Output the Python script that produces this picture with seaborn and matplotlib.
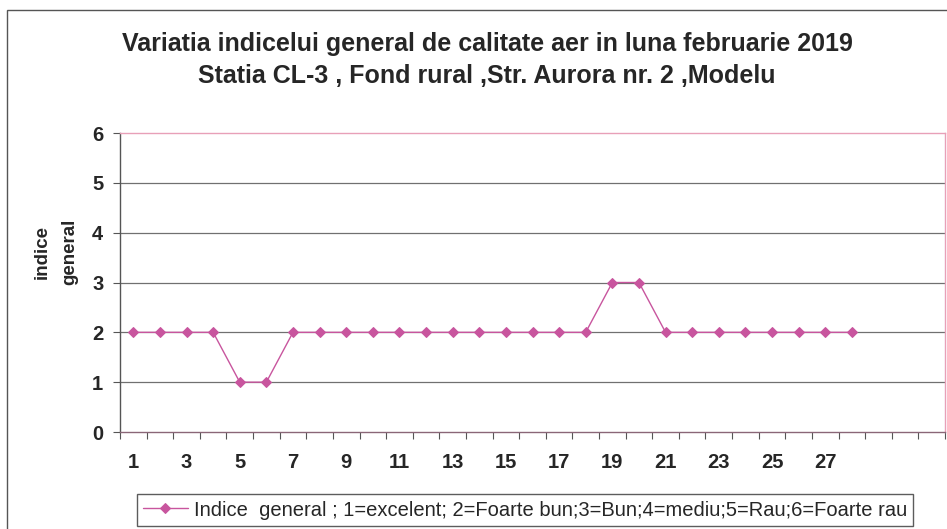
import matplotlib
matplotlib.use('Agg')
import matplotlib.pyplot as plt
import matplotlib.patches as mpatches
import pandas as pd
import seaborn as sns

# data (February 2019, days 1-28)
days = list(range(1, 29))
indice = [2, 2, 2, 2, 1, 1, 2, 2, 2, 2, 2, 2, 2, 2,
          2, 2, 2, 2, 3, 3, 2, 2, 2, 2, 2, 2, 2, 2]
tick_days = list(range(1, 28, 2))
n_categories = 31

title = ('Variatia indicelui general de calitate aer in luna februarie 2019\n'
         'Statia CL-3 , Fond rural ,Str. Aurora nr. 2 ,Modelu')
legend_label = 'Indice  general ; 1=excelent; 2=Foarte bun;3=Bun;4=mediu;5=Rau;6=Foarte rau'

df = pd.DataFrame({'zi': days, 'indice': indice})

sns.set_theme(style='white')
plt.rcParams['font.family'] = ['Liberation Sans', 'DejaVu Sans']

line_col = '#c8559e'

fig = plt.figure(figsize=(9.47, 5.29), dpi=100)
ax = fig.add_axes([120 / 947, 1 - 432 / 529, 825 / 947, 299 / 529])

# outer chart frame (cut by the scan at right and bottom)
fig.patches.append(mpatches.Rectangle((7 / 947, -0.02), 1.0, 1 - 10 / 529 + 0.02,
                                      transform=fig.transFigure, fill=False,
                                      edgecolor='#555555', linewidth=1.0))

sns.lineplot(data=df, x='zi', y='indice', ax=ax, color=line_col, marker='D',
             markersize=5.5, markeredgecolor=line_col, linewidth=1.0,
             label=legend_label)

ax.set_xlim(0.5, n_categories + 0.5)
ax.set_ylim(0, 6)
ax.set_yticks(range(0, 7))
ax.set_xticks(tick_days)
ax.set_xticks([i + 0.5 for i in range(0, n_categories + 1)], minor=True)
ax.tick_params(axis='x', which='major', length=0, pad=15, labelsize=14.5)
ax.tick_params(axis='x', which='minor', length=5, width=0.8, color='#555555',
               direction='out', bottom=True)
ax.tick_params(axis='y', length=5, width=0.8, color='#555555', direction='out',
               left=True, labelsize=14.5, pad=7)
for lab in ax.get_xticklabels() + ax.get_yticklabels():
    lab.set_fontweight('bold')

for v in range(1, 6):
    ax.axhline(v, color='#707070', linewidth=0.9, zorder=0)

ax.spines['left'].set_color('#555555')
ax.spines['bottom'].set_color('#8a6677')
ax.spines['top'].set_color('#e8a0b8')
ax.spines['right'].set_color('#e8a0b8')
for s in ax.spines.values():
    s.set_linewidth(1.0)

ax.set_xlabel('')
ax.set_ylabel('')
fig.text(56 / 947, 1 - 252 / 529, 'indice\ngeneral', rotation=90, ha='center',
         va='center', fontsize=13.5, fontweight='bold', linespacing=1.8)

fig.text(487 / 947, 1 - 60 / 529, title, ha='center', va='center',
         fontsize=18, fontweight='bold', linespacing=1.45)

ax.legend(loc='center', bbox_to_anchor=(525 / 947, 1 - 510 / 529),
          bbox_transform=fig.transFigure, frameon=True, fancybox=False,
          edgecolor='#333333', fontsize=14.5, handlelength=2.2,
          borderpad=0.3, handletextpad=0.3)

fig.savefig('out.png', dpi=100)
